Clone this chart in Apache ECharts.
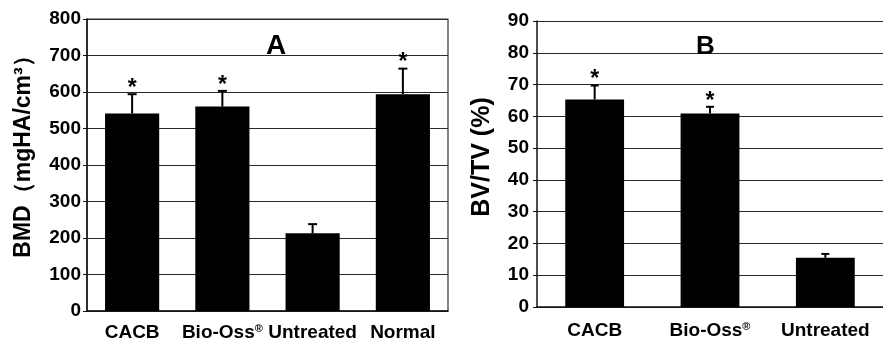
<!DOCTYPE html>
<html>
<head>
<meta charset="utf-8">
<script src="https://cdn.jsdelivr.net/npm/echarts@6/dist/echarts.min.js"></script>
<style>
  html, body { margin: 0; padding: 0; background: #fff; }
  #chart { width: 883px; height: 344px; }
</style>
</head>
<body>
<div id="chart"></div>
<script>
// ── 数据 ──
const catsA = ['CACB', 'Bio-Oss{sup|®}', 'Untreated', 'Normal'];
const bmdMean = [541, 560, 213, 594];
const bmdSd = [53, 43, 25, 70];
const bmdStar = [1, 1, 0, 1];

const catsB = ['CACB', 'Bio-Oss{sup|®}', 'Untreated'];
const bvMean = [65.3, 60.9, 15.5];
const bvSd = [4.4, 2.1, 1.2];
const bvStar = [1, 1, 0];

const yTicksA = { min: 0, max: 800, interval: 100 };
const yTicksB = { min: 0, max: 90, interval: 10 };

// ── 样式 ──
const FONT = '"Liberation Sans", Arial, sans-serif';
const axisColor = '#111';
const gridColor = '#2a2a2a';

// 误差线 + 星号
function errRender(capHalf) {
  return function(params, api) {
    const i = api.value(0), m = api.value(1), sd = api.value(2), star = api.value(3);
    const base = api.coord([i, m]);
    const top = api.coord([i, m + sd]);
    const children = [
      { type: 'line', shape: { x1: base[0], y1: base[1], x2: top[0], y2: top[1] },
        style: { stroke: '#000', lineWidth: 2 } },
      { type: 'line', shape: { x1: top[0] - capHalf, y1: top[1], x2: top[0] + capHalf, y2: top[1] },
        style: { stroke: '#000', lineWidth: 2 } }
    ];
    if (star) {
      children.push({ type: 'text', x: top[0], y: top[1] + 6,
        style: { text: '*', fill: '#000', font: 'bold 23px ' + FONT, align: 'center', verticalAlign: 'bottom' } });
    }
    return { type: 'group', children: children };
  };
}

const xLabel = {
  interval: 0, color: '#000', fontFamily: FONT, fontWeight: 'bold', fontSize: 19, margin: 12,
  rich: { sup: { fontFamily: FONT, fontWeight: 'bold', fontSize: 11, verticalAlign: 'top', padding: [0, 0, 8, 0], color: '#000' } }
};
const yLabel = (m) => ({ color: '#000', fontFamily: FONT, fontWeight: 'bold', fontSize: 19, margin: m });

const chart = echarts.init(document.getElementById('chart'), null, { renderer: 'canvas' });
chart.setOption({
  animation: false,
  backgroundColor: '#fff',
  title: [
    { text: 'A', left: 261, top: 27, textStyle: { fontFamily: FONT, fontWeight: 'bold', fontSize: 28, color: '#000' } },
    { text: 'B', left: 691, top: 29, textStyle: { fontFamily: FONT, fontWeight: 'bold', fontSize: 26, color: '#000' } }
  ],
  grid: [
    { left: 87, top: 19, width: 361, height: 292, show: true, borderColor: '#333', borderWidth: 1.2 },
    { left: 537, top: 21, width: 350, height: 286 }
  ],
  xAxis: [
    { type: 'category', gridIndex: 0, data: catsA,
      axisLine: { lineStyle: { color: axisColor, width: 1.5 } },
      axisTick: { alignWithLabel: true, length: 5, lineStyle: { color: axisColor, width: 1.5 } },
      axisLabel: xLabel },
    { type: 'category', gridIndex: 1, data: catsB,
      axisLine: { lineStyle: { color: axisColor, width: 1.5 } },
      axisTick: { alignWithLabel: true, length: 5, lineStyle: { color: axisColor, width: 1.5 } },
      axisLabel: Object.assign({}, xLabel, { margin: 14 }) }
  ],
  yAxis: [
    { type: 'value', gridIndex: 0, min: yTicksA.min, max: yTicksA.max, interval: yTicksA.interval,
      name: 'BMD（mgHA/cm³）', nameLocation: 'middle', nameGap: 52,
      nameTextStyle: { fontFamily: FONT, fontWeight: 'bold', fontSize: 23, color: '#000', padding: [0, 0, 0, 28] },
      axisLine: { show: true, lineStyle: { color: axisColor, width: 1.5 } },
      axisTick: { show: true, length: 4, lineStyle: { color: axisColor } },
      axisLabel: yLabel(6),
      splitLine: { lineStyle: { color: gridColor, width: 1.2 } } },
    { type: 'value', gridIndex: 1, min: yTicksB.min, max: yTicksB.max, interval: yTicksB.interval,
      name: 'BV/TV (%)', nameLocation: 'middle', nameGap: 42,
      nameTextStyle: { fontFamily: FONT, fontWeight: 'bold', fontSize: 25, color: '#000', padding: [0, 0, 0, 14] },
      axisLine: { show: true, lineStyle: { color: axisColor, width: 1.5 } },
      axisTick: { show: true, length: 4, lineStyle: { color: axisColor } },
      axisLabel: yLabel(8),
      splitLine: { lineStyle: { color: gridColor, width: 1.2 } } }
  ],
  series: [
    { type: 'bar', xAxisIndex: 0, yAxisIndex: 0, data: bmdMean, barWidth: '60%',
      itemStyle: { color: '#000' }, z: 2 },
    { type: 'custom', xAxisIndex: 0, yAxisIndex: 0, renderItem: errRender(4.5),
      data: bmdMean.map((m, i) => [i, m, bmdSd[i], bmdStar[i]]), z: 3 },
    { type: 'bar', xAxisIndex: 1, yAxisIndex: 1, data: bvMean, barWidth: '51%',
      itemStyle: { color: '#000' }, z: 2 },
    { type: 'custom', xAxisIndex: 1, yAxisIndex: 1, renderItem: errRender(4),
      data: bvMean.map((m, i) => [i, m, bvSd[i], bvStar[i]]), z: 3 }
  ]
});
</script>
</body>
</html>
